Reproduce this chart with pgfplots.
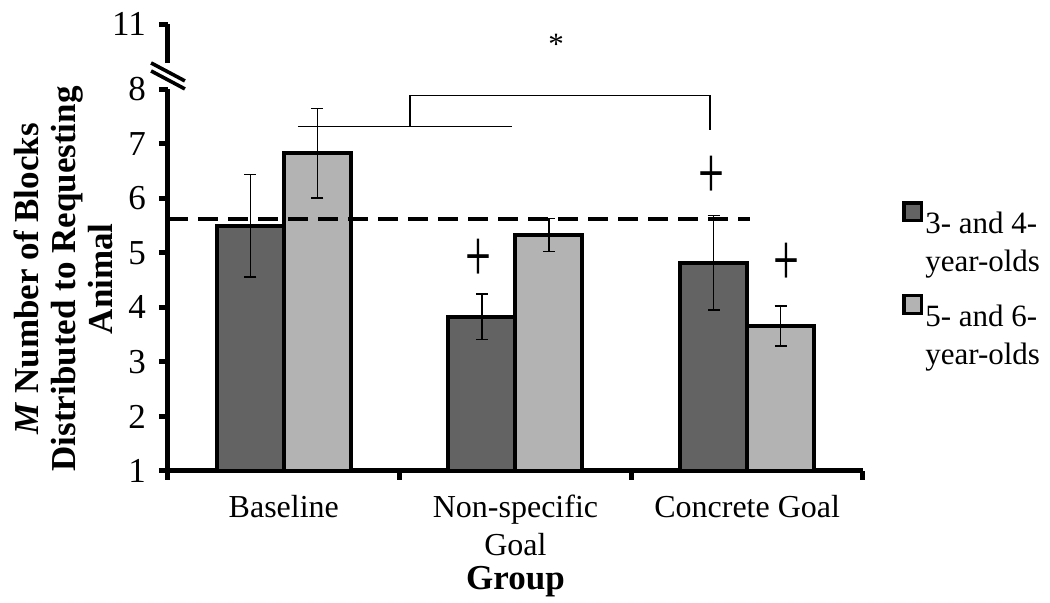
\documentclass[border=0pt]{standalone}
\usepackage{fontspec}
\setmainfont{Liberation Serif}
\usepackage{pgfplots}
\pgfplotsset{compat=1.18}
\definecolor{darkbar}{RGB}{99,99,99}
\definecolor{lightbar}{RGB}{179,179,179}
\newcommand\lblfont{\fontsize{17.5}{18.5}\selectfont\bfseries}
\newcommand\ytfont{\fontsize{17.5}{20}\selectfont}
\newcommand\xtfont{\fontsize{16}{19}\selectfont}
\newcommand\lgfont{\fontsize{15.5}{19}\selectfont}

\begin{document}
\begin{tikzpicture}
\useasboundingbox (-84pt,-66pt) rectangle (441pt,235.5pt);
\begin{axis}[
  at={(0,0)}, anchor=south west,
  width=347.5pt, height=223.5pt, scale only axis,
  xmin=-0.5, xmax=2.5, ymin=1, ymax=9.2,
  clip=false,
  ybar=0pt, bar width=33.5pt,
  axis x line*=bottom, axis y line*=left,
  y axis line style={draw=none},
  x axis line style={line width=2.5pt, -},
  xtick={0,1,2},
  xticklabels={Baseline, {Non-specific\\Goal}, Concrete Goal},
  xticklabel style={align=center, font=\xtfont, yshift=-4pt},
  minor xtick={-0.5,0.5,1.5,2.5},
  every major x tick/.style={draw=none},
  every minor x tick/.style={line width=2.5pt, black},
  minor tick length=4.5pt,
  ytick={1,2,3,4,5,6,7,8,9.2},
  yticklabels={1,2,3,4,5,6,7,8,11},
  every major y tick/.style={line width=2.5pt, black},
  major tick length=4.5pt,
  tick align=outside,
  yticklabel style={font=\ytfont, xshift=-3pt},
  /pgf/number format/assume math mode=true,
  legend style={at={(1.056,0.604)}, anchor=north west, draw=none, fill=none,
    inner sep=0pt, row sep=27.5pt,
    nodes={inner sep=1pt, font=\lgfont}},
  legend cell align=left,
]
\addplot[fill=darkbar, draw=black, line width=2pt,
  legend image code/.code={\draw[fill=darkbar,draw=black,line width=1.6pt] (0pt,0.6pt) rectangle (8.9pt,9.5pt);},
  error bars/.cd, y dir=both, y explicit,
  error bar style={line width=0.8pt, black},
  error mark options={rotate=90, line width=0.8pt, mark size=3pt, black}]
  coordinates {(0,5.50) +- (0,0.94) (1,3.83) +- (0,0.42) (2,4.82) +- (0,0.87)};
\addlegendentry{{\begin{tabular}[t]{@{}l@{}}3- and 4-\\year-olds\end{tabular}}}
\addplot[fill=lightbar, draw=black, line width=2pt,
  legend image code/.code={\draw[fill=lightbar,draw=black,line width=1.6pt] (0pt,0.6pt) rectangle (8.9pt,9.5pt);},
  error bars/.cd, y dir=both, y explicit,
  error bar style={line width=0.8pt, black},
  error mark options={rotate=90, line width=0.8pt, mark size=3pt, black}]
  coordinates {(0,6.83) +- (0,0.82) (1,5.33) +- (0,0.30) (2,3.66) +- (0,0.37)};
\addlegendentry{{\begin{tabular}[t]{@{}l@{}}5- and 6-\\year-olds\end{tabular}}}

% reference line
\draw[line width=2pt, dash pattern=on 10pt off 5pt] (axis cs:-0.5,5.62) -- (axis cs:2.012,5.62);
% significance brackets
\draw[line width=0.9pt] (axis cs:0.061,7.32) -- (axis cs:0.985,7.32);
\draw[line width=0.9pt] (axis cs:0.545,7.32) -- (axis cs:0.545,7.89) -- (axis cs:1.840,7.89) -- (axis cs:1.840,7.26);
\node[font=\fontsize{15.5}{17}\selectfont] at (axis cs:1.175,8.83) {*};
% plus signs
\node at (axis cs:0.842,4.87) {\scalebox{1}[1.63]{\fontsize{23pt}{23pt}\selectfont +}};
\node at (axis cs:1.844,6.38) {\scalebox{1}[1.63]{\fontsize{23pt}{23pt}\selectfont +}};
\node at (axis cs:2.168,4.80) {\scalebox{1}[1.63]{\fontsize{23pt}{23pt}\selectfont +}};
% broken y axis
\draw[line width=2.5pt] (axis cs:-0.5,1) -- (axis cs:-0.5,8);
\draw[line width=2.5pt] (axis cs:-0.5,8.48) -- (axis cs:-0.5,9.2);
\draw[line width=1.8pt] (axis cs:-0.573,8.486) -- (axis cs:-0.427,8.156);
\draw[line width=1.8pt] (axis cs:-0.573,8.339) -- (axis cs:-0.427,8.009);
% axis labels
\node[rotate=90, align=center, font=\lblfont]
  at (axis description cs:-0.151,0.43) {\textit{M} Number of Blocks\\Distributed to Requesting\\Animal};
\node[font=\lblfont, yshift=-55.5pt] at (axis description cs:0.5,0) {Group};
\end{axis}
\end{tikzpicture}
\end{document}
